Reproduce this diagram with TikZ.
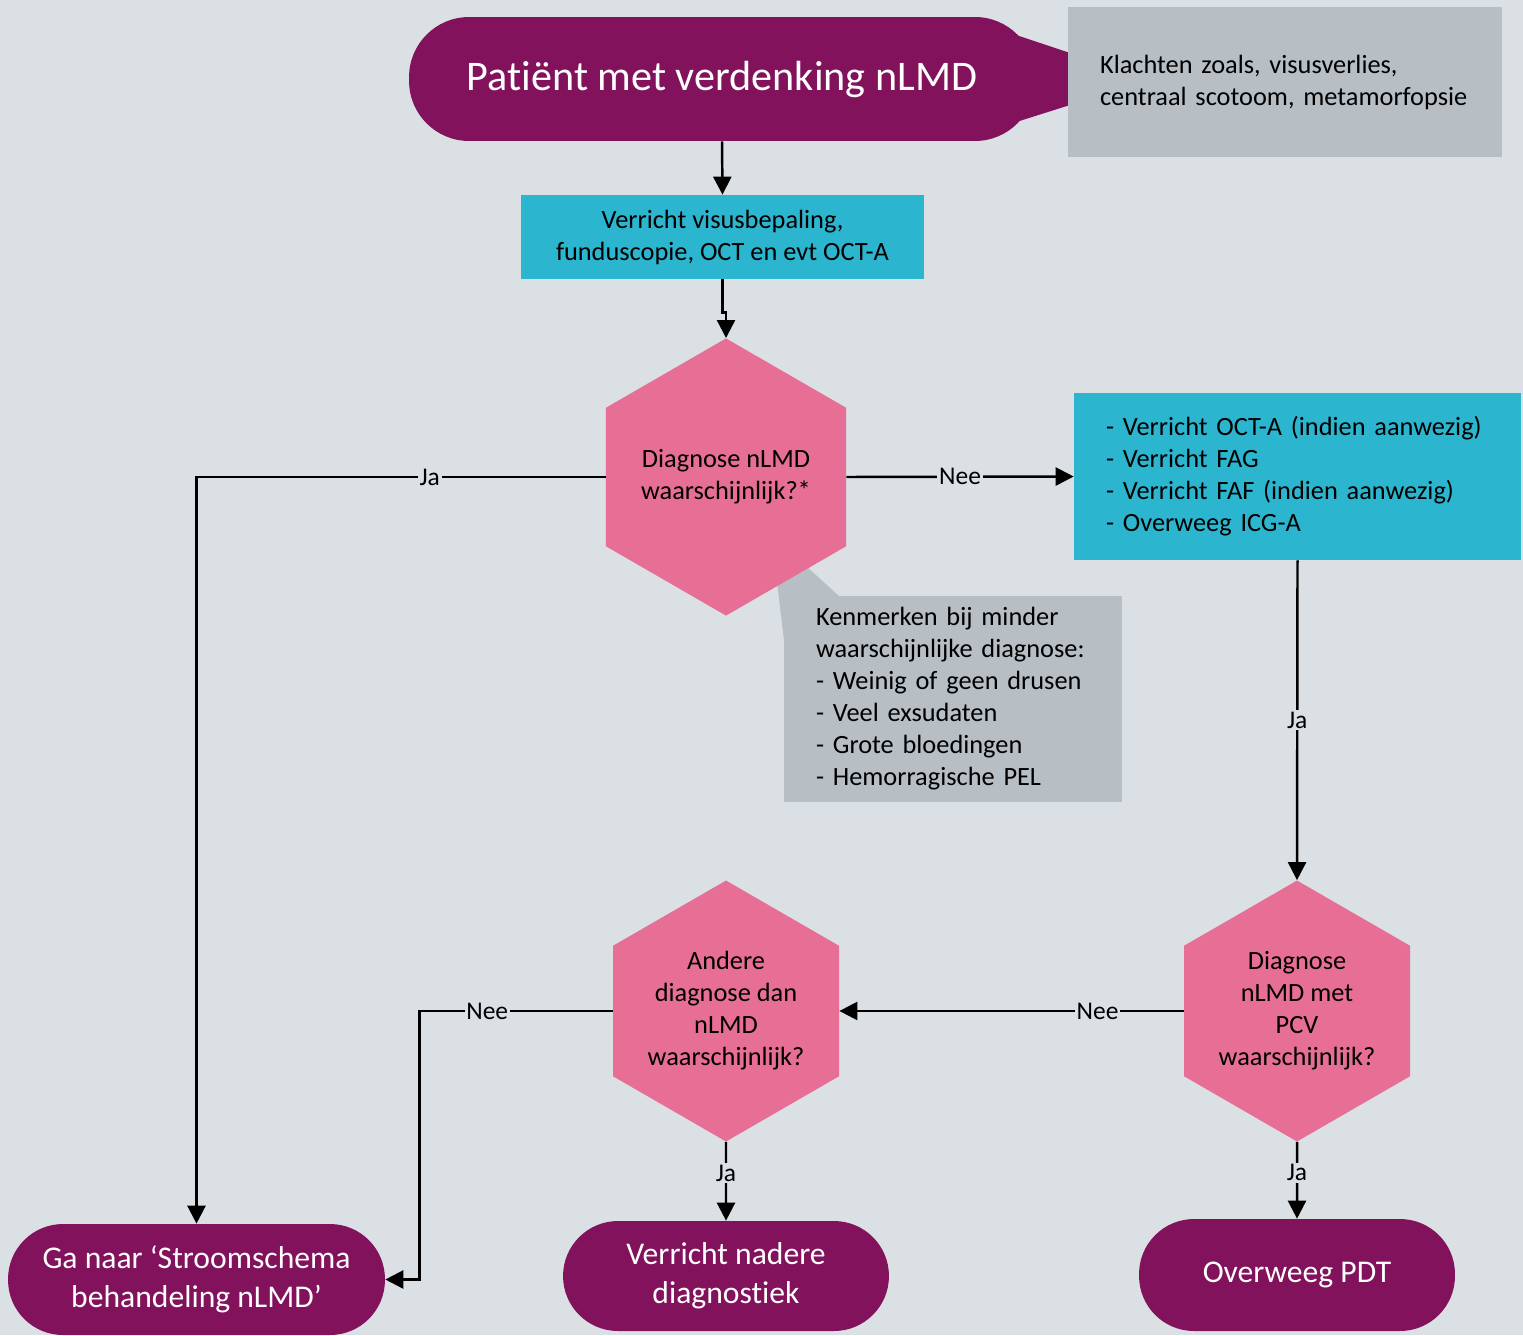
\documentclass[tikz,border=0pt]{standalone}
\usepackage{fontspec}
\setmainfont{Carlito}[Ligatures=NoCommon]
\usepackage{tikz}
\usetikzlibrary{shapes.geometric,arrows.meta}
\definecolor{achter}{HTML}{DAE0E4}
\definecolor{paars}{HTML}{82125C}
\definecolor{roze}{HTML}{E76E95}
\definecolor{blauw}{HTML}{2BB5CE}
\definecolor{grijs}{HTML}{B7BEC4}

\begin{document}
\begin{tikzpicture}[x=0.02cm,y=-0.02cm,
  eind/.style={fill=paars,text=white,align=center,inner sep=0pt,font=\fontsize{18}{22}\selectfont},
  actie/.style={fill=blauw,inner sep=0pt,font=\fontsize{15}{18.2}\selectfont},
  vraag/.style={regular polygon,regular polygon sides=6,shape border rotate=30,fill=roze,align=center,inner sep=0pt,font=\fontsize{15}{18.2}\selectfont},
  noot/.style={fill=grijs,align=left,inner ysep=0pt,inner xsep=0.64cm,font=\fontsize{15}{18.2}\selectfont},
  pijl/.style={line width=1.4pt,-{Triangle[length=0.36cm,width=0.36cm]}},
  lab/.style={fill=achter,inner sep=1pt,font=\fontsize{14.5}{17}\selectfont}]
\useasboundingbox (0,0) rectangle (1523,1335);
\fill[achter] (0,0) rectangle (1523,1335);

\fill[paars] (1010,33) -- (1070,53) -- (1070,105) -- (1010,124) -- cycle;
\node[eind,rounded corners=1.2cm,minimum width=12.52cm,minimum height=2.48cm,font=\fontsize{24}{28}\selectfont] (start) at (722,79) {Patiënt met verdenking nLMD};
\node[noot,text width=7.4cm,minimum height=3.02cm] (klacht) at (1285,82) {Klachten zoals, visusverlies,\\centraal scotoom, metamorfopsie};

\node[actie,align=center,minimum width=8.06cm,minimum height=1.68cm] (visus) at (722.5,237) {Verricht visusbepaling,\\funduscopie, OCT en evt OCT-A};

\fill[grijs] (775,565) -- (805,565) -- (840,597) -- (784,640) -- cycle;
\node[noot,text width=5.48cm,minimum height=4.12cm] (kenm) at (953,699) {Kenmerken bij minder\\waarschijnlijke diagnose:\\- Weinig of geen drusen\\- Veel exsudaten\\- Grote bloedingen\\- Hemorragische PEL};
\node[vraag,minimum size=5.44cm] (diag) at (726,477) {Diagnose nLMD\\waarschijnlijk?*};

\node[actie,align=left,text width=7.66cm,inner xsep=0.64cm,minimum height=3.34cm] (extra) at (1297.5,476.5) {- Verricht OCT-A (indien aanwezig)\\- Verricht FAG\\- Verricht FAF (indien aanwezig)\\- Overweeg ICG-A};

\node[vraag,minimum size=5.22cm] (pcv) at (1297,1011) {Diagnose\\nLMD met\\PCV\\waarschijnlijk?};
\node[vraag,minimum size=5.22cm] (ander) at (726,1011) {Andere\\diagnose dan\\nLMD\\waarschijnlijk?};

\node[eind,rounded corners=1.1cm,minimum width=7.54cm,minimum height=2.22cm] (ganaar) at (196.5,1279.5) {Ga naar ‘Stroomschema\\behandeling nLMD’};
\node[eind,rounded corners=1.1cm,minimum width=6.52cm,minimum height=2.2cm] (nader) at (726,1276) {Verricht nadere\\diagnostiek};
\node[eind,rounded corners=1.1cm,minimum width=6.32cm,minimum height=2.24cm] (pdt) at (1297,1275) {Overweeg PDT};

\draw[pijl] (start.south) -- (visus.north);
\draw[pijl] (visus.south) -- ++(0,33) -| (diag.north);
\draw[pijl] (diag.west) -| node[lab,pos=0.215] {Ja} (ganaar.north);
\draw[pijl] (diag.east) -- node[lab] {Nee} (extra.west);
\draw[pijl] (extra.south) -- node[lab] {Ja} (pcv.north);
\draw[pijl] (pcv.west) -- node[lab,pos=0.25] {Nee} (ander.east);
\draw[pijl] (ander.west) -- node[lab,pos=0.65] {Nee} ++(-193,0) |- (ganaar.east);
\draw[pijl] (ander.south) -- node[lab,pos=0.4] {Ja} (nader.north);
\draw[pijl] (pcv.south) -- node[lab,pos=0.4] {Ja} (pdt.north);
\end{tikzpicture}
\end{document}
